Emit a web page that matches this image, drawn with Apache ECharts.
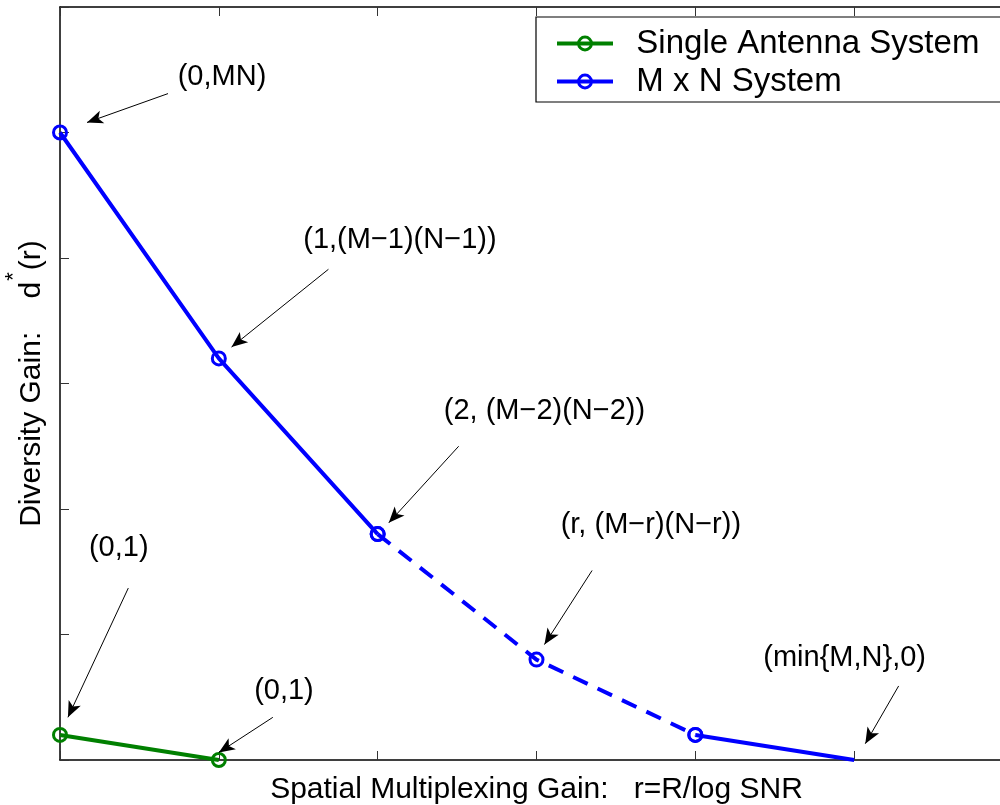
<!DOCTYPE html>
<html>
<head>
<meta charset="utf-8">
<script src="https://cdn.jsdelivr.net/npm/echarts@6/dist/echarts.min.js"></script>
<style>
  html, body { margin: 0; padding: 0; background: #fff; }
  #chart { width: 1000px; height: 805px; }
</style>
</head>
<body>
<div id="chart"></div>
<script>
// values
const rValues = [0, 1, 2, 3, 4, 5];
const mnGain = [5, 3.2, 1.8, 0.8, 0.2, 0];
const singleR = [0, 1];
const singleGain = [0.2, 0];

// which stretch of the M x N curve is drawn dashed
const solidA = [0, 2];
const dashed = [2, 4];
const solidB = [4, 5];
const markerUpTo = 4; // last point has no circle

// annotation texts and their positions (in data units)
const noteText = ["(0,MN)", "(1,(M\u22121)(N\u22121))", "(2, (M\u22122)(N\u22122))",
  "(r, (M\u2212r)(N\u2212r))", "(0,1)", "(0,1)", "(min{M,N},0)"];
const noteX = [1.02, 2.14, 3.05, 3.72, 0.37, 1.41, 4.94];
const noteY = [5.44, 4.14, 2.78, 1.87, 1.69, 0.55, 0.81];
// arrows: start -> tip
const arrowFromX = [0.68, 1.69, 2.51, 3.35, 0.43, 1.34, 5.28];
const arrowFromY = [5.31, 3.91, 2.50, 1.51, 1.37, 0.34, 0.59];
const arrowToX = [0.17, 1.08, 2.07, 3.05, 0.05, 1.00, 5.07];
const arrowToY = [5.08, 3.29, 1.89, 0.92, 0.34, 0.06, 0.13];

const FONT = "Liberation Sans, Arial, Helvetica, sans-serif";
const BLUE = "#0000ff";
const GREEN = "#008000";

const pairs = (xs, ys) => xs.map((x, i) => [x, ys[i]]);
const mnPoints = pairs(rValues, mnGain);
const slice = (range) => mnPoints.filter((p) => p[0] >= range[0] && p[0] <= range[1]);

const circle = (color) => ({
  symbol: "circle",
  symbolSize: 13,
  itemStyle: { color: "rgba(0,0,0,0)", borderColor: color, borderWidth: 3 },
});

const mnSegment = (range, type) => ({
  name: "M x N System",
  type: "line",
  data: slice(range),
  ...circle(BLUE),
  showSymbol: true,
  symbolSize: (v) => (v[0] <= markerUpTo ? 13 : 0),
  lineStyle: { color: BLUE, width: 4, type: type },
  z: 3,
});

const chart = echarts.init(document.getElementById("chart"));

const axisCommon = {
  type: "value",
  min: 0,
  max: 6,
  interval: 1,
  axisLine: { onZero: false, lineStyle: { color: "#000", width: 1.5 } },
  axisTick: { inside: true, length: 9, lineStyle: { color: "#333", width: 1 } },
  axisLabel: { show: false },
  splitLine: { show: false },
};

const option = {
  animation: false,
  backgroundColor: "#fff",
  textStyle: { fontFamily: FONT },
  // plot runs past the right edge of the picture
  grid: { left: 60, top: 7, width: 953, bottom: 45, outerBoundsMode: "none" },
  legend: {
    data: ["Single Antenna System", "M x N System"],
    orient: "vertical",
    left: 536,
    top: 17,
    padding: [10, 40, 4, 19],
    itemGap: 5,
    itemWidth: 56,
    itemHeight: 16,
    backgroundColor: "#fff",
    borderColor: "#000",
    borderWidth: 1.2,
    borderRadius: 0,
    lineStyle: { width: 4 },
    itemStyle: { borderWidth: 3 },
    formatter: (name) => "  " + name,
    textStyle: { fontSize: 33, color: "#000", fontFamily: FONT, lineHeight: 33 },
  },
  xAxis: [
    {
      ...axisCommon,
      name: "Spatial Multiplexing Gain:   r=R/log SNR",
      nameLocation: "middle",
      nameGap: 15,
      nameTextStyle: { fontSize: 30, color: "#000", fontFamily: FONT, verticalAlign: "top" },
    },
    { ...axisCommon, position: "top" },
  ],
  yAxis: [
    {
      ...axisCommon,
      name: "Diversity Gain:    d{sup|*}(r)",
      nameLocation: "middle",
      nameGap: -1,
      nameTextStyle: {
        fontSize: 30,
        color: "#000",
        fontFamily: FONT,
        rich: { sup: { fontSize: 22, padding: [0, 2, 36, 1] } },
      },
    },
    { ...axisCommon, position: "right" },
  ],
  series: [
    {
      name: "Single Antenna System",
      type: "line",
      data: pairs(singleR, singleGain),
      ...circle(GREEN),
      lineStyle: { color: GREEN, width: 4 },
      z: 3,
    },
    mnSegment(solidA, "solid"),
    mnSegment(dashed, [16, 11]),
    mnSegment(solidB, "solid"),
    {
      name: "notes",
      type: "scatter",
      data: noteText.map((t, i) => [noteX[i], noteY[i], t]),
      symbolSize: 1,
      itemStyle: { color: "rgba(0,0,0,0)" },
      label: {
        show: true,
        position: "inside",
        formatter: (p) => p.value[2],
        fontSize: 29,
        color: "#000",
        textBorderWidth: 0,
        opacity: 1,
        fontFamily: FONT,
      },
      markLine: {
        silent: true,
        symbol: ["none", "arrow"],
        symbolSize: [10, 16],
        label: { show: false },
        lineStyle: { color: "#000", width: 1, type: "solid" },
        data: arrowFromX.map((x, i) => [
          { coord: [x, arrowFromY[i]] },
          { coord: [arrowToX[i], arrowToY[i]] },
        ]),
      },
      z: 4,
    },
  ],
};

chart.setOption(option);
</script>
</body>
</html>
